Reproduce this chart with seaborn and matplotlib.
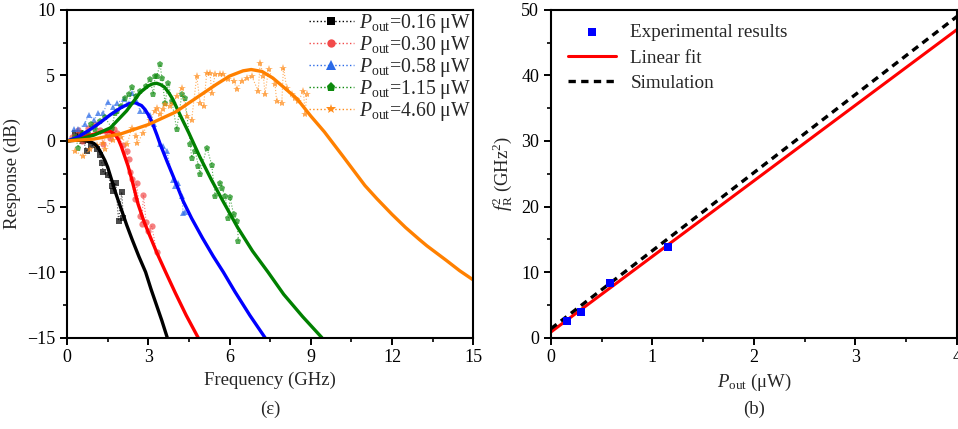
import matplotlib
matplotlib.use("Agg")
import matplotlib.pyplot as plt
from matplotlib.lines import Line2D
from matplotlib.ticker import MultipleLocator
import seaborn as sns

# ---- measured responses (GHz, dB) ----
black_x = [0.3, 0.48, 0.6, 0.73, 0.9, 1.1, 1.22, 1.28, 1.34, 1.5, 1.65, 1.71, 1.8, 1.9, 2.02, 2.08]
black_y = [0.6, 0.63, 0.0, -0.76, -0.3, -0.6, -1.1, -1.65, -2.4, -2.6, -3.4, -3.8, -3.2, -6.1, -3.9, -5.9]

red_x = [0.2, 0.4, 0.54, 0.7, 0.79, 1.03, 1.2, 1.34, 1.47, 1.6, 1.75, 1.84, 2.05, 2.2, 2.27, 2.33,
         2.39, 2.5, 2.57, 2.7, 2.76, 2.82, 2.92, 3.0, 3.13, 3.31]
red_y = [0.3, 0.8, 0.0, 0.6, 1.0, 1.27, 0.8, -0.25, 0.63, 0.2, 0.9, 0.63, -0.3, -0.76, -1.4, -2.4,
         -2.9, -4.4, -3.2, -5.7, -6.3, -4.1, -6.2, -6.9, -6.5, -8.5]

blue_x = [0.25, 0.42, 0.65, 0.8, 1.0, 1.15, 1.34, 1.5, 1.7, 1.84, 2.1, 2.25, 2.39, 2.55, 2.7, 2.89,
          3.05, 3.2, 3.44, 3.55, 3.68, 3.93, 3.99, 4.11, 4.24, 4.29, 4.36]
blue_y = [0.9, 0.9, 1.3, 2.0, 1.6, 2.1, 2.16, 3.0, 2.6, 2.9, 3.2, 2.8, 3.68, 3.1, 2.29, 2.29,
          2.0, 1.3, -0.25, -0.4, -0.76, -3.0, -3.4, -3.2, -4.2, -5.5, -5.4]

green_x = [0.3, 0.42, 0.6, 0.79, 0.9, 1.05, 1.2, 1.4, 1.65, 1.77, 1.85, 2.0, 2.15, 2.27, 2.39, 2.55,
           2.7, 2.9, 3.06, 3.19, 3.25, 3.31, 3.44, 3.5, 3.62, 3.74, 3.87, 4.05, 4.24, 4.35, 4.55,
           4.6, 4.73, 4.85, 4.91, 5.16, 5.34, 5.47, 5.65, 5.71, 5.84, 5.96, 6.02, 6.15, 6.27, 6.33]
green_y = [0.3, -0.5, 0.63, 0.63, 1.3, 0.9, 1.5, 1.8, 1.0, 2.16, 2.3, 2.7, 3.3, 3.56, 4.1, 3.4,
           3.8, 4.2, 4.7, 3.56, 4.95, 4.95, 5.85, 4.8, 2.9, 4.44, 3.05, 0.89, 3.56, 3.3, -0.25,
           -1.27, -0.76, -1.9, -2.5, -0.5, -1.8, -4.2, -3.2, -3.6, -4.2, -5.85, -4.3, -5.6, -6.1, -7.6]

orange_x = [0.3, 0.6, 0.85, 1.1, 1.34, 1.4, 1.7, 2.0, 2.22, 2.39, 2.54, 2.6, 2.82, 3.05, 3.25, 3.31,
            3.44, 3.56, 3.62, 3.8, 3.93, 4.05, 4.24, 4.42, 4.6, 4.79, 4.91, 5.04, 5.16, 5.28, 5.34,
            5.47, 5.65, 5.77, 5.95, 6.15, 6.27, 6.45, 6.65, 6.82, 7.06, 7.13, 7.25, 7.31, 7.44, 7.68,
            7.74, 7.93, 7.99, 8.11, 8.3, 8.42, 8.54, 8.73, 8.79, 8.85]
orange_y = [-0.8, -1.14, -0.63, -0.3, -0.13, -0.63, 0.1, 0.3, -0.25, 1.0, 0.38, -0.13, 0.63, 1.6, 2.3, 2.54,
            2.03, 2.41, 2.8, 2.67, 2.92, 3.43, 4.06, 1.9, 1.6, 4.95, 2.92, 2.67, 5.2, 5.2, 3.68,
            5.08, 5.13, 5.08, 4.7, 4.57, 3.94, 4.57, 4.8, 4.95, 3.8, 5.97, 4.95, 3.56, 5.46, 4.32,
            3.05, 2.92, 5.59, 4.06, 3.56, 3.3, 3.05, 3.8, 2.03, 3.56]

# ---- fitted responses ----
black_fx = [0, 0.3, 0.6, 0.9, 1.0, 1.1, 1.2, 1.3, 1.4, 1.5, 1.65, 1.8, 2.0, 2.2, 2.4, 2.65, 2.9,
            3.1, 3.3, 3.5, 3.7]
black_fy = [0, 0.05, 0.05, -0.1, -0.2, -0.4, -0.7, -1.1, -1.5, -2.0, -3.0, -4.0, -5.2, -6.4, -7.5,
            -8.8, -10.0, -11.3, -12.5, -13.7, -15.0]

red_fx = [0, 0.4, 0.8, 1.2, 1.5, 1.6, 1.7, 1.8, 1.9, 2.0, 2.1, 2.25, 2.4, 2.62, 2.85, 3.05, 3.31,
          3.64, 4.0, 4.4, 4.84]
red_fy = [0, 0.15, 0.4, 0.65, 0.75, 0.72, 0.6, 0.4, 0.1, -0.4, -1.0, -1.9, -3.0, -4.8, -6.2, -7.2,
          -8.5, -10.0, -11.6, -13.3, -15.0]

blue_fx = [0, 0.4, 0.8, 1.22, 1.6, 2.0, 2.3, 2.51, 2.75, 2.88, 3.0, 3.1, 3.2, 3.32, 3.44, 3.7, 3.99,
           4.29, 4.6, 5.0, 5.4, 5.77, 6.2, 6.75, 7.31]
blue_fy = [0, 0.3, 0.8, 1.4, 2.0, 2.55, 2.85, 2.92, 2.7, 2.4, 2.0, 1.6, 1.1, 0.45, -0.25, -1.6, -3.05,
           -4.6, -5.9, -7.4, -8.8, -10.0, -11.5, -13.3, -15.0]

green_fx = [0, 0.5, 1.0, 1.6, 2.2, 2.7, 3.0, 3.15, 3.31, 3.45, 3.6, 3.75, 3.9, 4.17, 4.5, 4.9, 5.34,
            5.76, 6.3, 6.85, 7.42, 8.0, 8.7, 9.41]
green_fy = [0, 0.15, 0.45, 1.0, 2.3, 3.7, 4.2, 4.35, 4.4, 4.3, 4.1, 3.7, 3.2, 2.0, 0.6, -1.2, -3.0,
            -4.6, -6.6, -8.4, -10.0, -11.7, -13.4, -15.0]

orange_fx = [0, 1, 2, 3, 4, 5, 5.5, 6, 6.5, 6.8, 7.2, 7.6, 8, 8.5, 9, 9.5, 9.85, 10.2, 10.6, 11.0,
             11.44, 12, 12.5, 13, 13.29, 14, 14.5, 15]
orange_fy = [0, 0.15, 0.55, 1.25, 2.2, 3.6, 4.3, 4.95, 5.35, 5.45, 5.3, 4.8, 4.1, 3.2, 1.9, 0.7, -0.25,
             -1.2, -2.3, -3.4, -4.4, -5.6, -6.6, -7.5, -8.0, -9.1, -9.9, -10.6]

powers = ["0.16", "0.30", "0.58", "1.15", "4.60"]

# ---- panel (b) ----
p_exp = [0.16, 0.30, 0.58, 1.15]
fr2_exp = [2.6, 3.9, 8.4, 13.8]
p_line = [0, 4]
fr2_fit = [0.85, 47.0]
fr2_sim = [1.35, 49.0]

sns.set_theme(style="ticks")
plt.rcParams.update({
    "font.family": ["Liberation Serif", "DejaVu Serif"],
    "mathtext.fontset": "custom",
    "mathtext.rm": "Liberation Serif",
    "mathtext.it": "Liberation Serif:italic",
    "font.size": 13,
    "axes.linewidth": 1.5,
    "axes.edgecolor": "black",
    "xtick.major.width": 1.4,
    "ytick.major.width": 1.4,
    "xtick.minor.width": 1.2,
    "ytick.minor.width": 1.2,
    "xtick.major.size": 5,
    "ytick.major.size": 5,
    "xtick.minor.size": 3,
    "ytick.minor.size": 3,
    "xtick.labelsize": 13,
    "ytick.labelsize": 13,
    "xtick.color": "black",
    "ytick.color": "black",
})

fig = plt.figure(figsize=(9.58, 4.29), dpi=100)
ax1 = fig.add_axes([0.070, 0.213, 0.424, 0.764])
ax2 = fig.add_axes([0.575, 0.213, 0.424, 0.764])

series = [
    (black_x, black_y, black_fx, black_fy, "#000000", "#000000", "s", 4.0),
    (red_x, red_y, red_fx, red_fy, "#ff0000", "#f24a4a", "o", 4.5),
    (blue_x, blue_y, blue_fx, blue_fy, "#0000ff", "#2a6ae8", "^", 5.0),
    (green_x, green_y, green_fx, green_fy, "#008000", "#0d8a0d", "p", 5.0),
    (orange_x, orange_y, orange_fx, orange_fy, "#ff8000", "#ff8c1a", "*", 6.0),
]

handles = []
for (dx, dy, fx, fy, lc, mc, mk, ms), p in zip(series, powers):
    sns.lineplot(x=dx, y=dy, ax=ax1, color=mc, linestyle=":", linewidth=0.8, alpha=0.7,
                 marker=mk, markersize=ms, markeredgewidth=0, sort=True, estimator=None)
for (dx, dy, fx, fy, lc, mc, mk, ms), p in zip(series, powers):
    sns.lineplot(x=fx, y=fy, ax=ax1, color=lc, linewidth=2.4, sort=False, estimator=None)
    handles.append(Line2D([], [], color=mc, linestyle=":", linewidth=1.0, marker=mk,
                          markersize=ms + 1.5, markeredgewidth=0,
                          label=r"$P_\mathrm{out}$=" + p + " \u03bcW"))

ax1.set_xlim(0, 15)
ax1.set_ylim(-15, 10)
ax1.xaxis.set_major_locator(MultipleLocator(3))
ax1.xaxis.set_minor_locator(MultipleLocator(1.5))
ax1.yaxis.set_major_locator(MultipleLocator(5))
ax1.yaxis.set_minor_locator(MultipleLocator(2.5))
ax1.set_xlabel("Frequency (GHz)", fontsize=13.5)
ax1.set_ylabel("Response (dB)", fontsize=13.5, labelpad=4)
ax1.legend(handles=handles, loc="upper right", frameon=False, fontsize=14.2,
           handlelength=2.3, handletextpad=0.25, labelspacing=-0.05, borderaxespad=0.0,
           borderpad=0.1)

sns.lineplot(x=p_line, y=fr2_fit, ax=ax2, color="#ff0000", linewidth=2.2,
             label="Linear fit", legend=False)
sns.lineplot(x=p_line, y=fr2_sim, ax=ax2, color="black", linewidth=2.4,
             linestyle=(0, (2.2, 1.6)), label="Simulation", legend=False)
sns.scatterplot(x=p_exp, y=fr2_exp, ax=ax2, color="#0000ff", marker="s", s=38,
                linewidth=0, label="Experimental results", legend=False, zorder=3)

h2, l2 = ax2.get_legend_handles_labels()
order = [2, 0, 1]
ax2.legend([h2[i] for i in order], [l2[i] for i in order], loc="upper left",
           bbox_to_anchor=(0.0, 1.01), frameon=False, fontsize=13.8, handlelength=2.5,
           handletextpad=0.75, labelspacing=0.42)

ax2.set_xlim(0, 4)
ax2.set_ylim(0, 50)
ax2.xaxis.set_major_locator(MultipleLocator(1))
ax2.xaxis.set_minor_locator(MultipleLocator(0.5))
ax2.yaxis.set_major_locator(MultipleLocator(10))
ax2.yaxis.set_minor_locator(MultipleLocator(5))
ax2.set_xlabel("$P_\\mathrm{out}$ (\u03bcW)", fontsize=13.5)
ax2.set_ylabel(r"$f_\mathrm{R}^2$ (GHz$^2$)", fontsize=13.5, labelpad=4)

for ax in (ax1, ax2):
    for s in ax.spines.values():
        s.set_visible(True)
        s.set_linewidth(1.5)
    ax.tick_params(which="both", direction="out", top=False, right=False)

fig.text(0.070 + 0.424 / 2, 0.045, "(\u03b5)", ha="center", va="center", fontsize=13.5)
fig.text(0.575 + 0.424 / 2, 0.045, "(b)", ha="center", va="center", fontsize=13.5)

fig.savefig("out.png", dpi=100)
